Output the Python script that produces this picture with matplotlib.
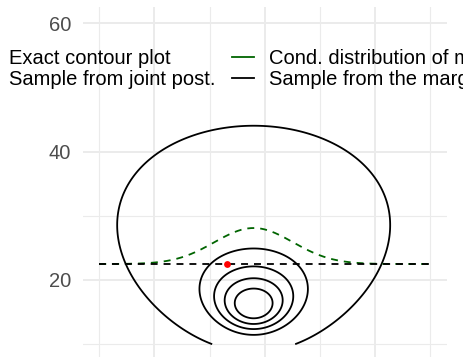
import numpy as np
import matplotlib
matplotlib.use("Agg")
import matplotlib.pyplot as plt
from matplotlib.lines import Line2D
from math import lgamma

plt.rcParams['font.family'] = ['Liberation Sans', 'DejaVu Sans']
plt.rcParams['lines.scale_dashes'] = False

# ---- data ----
y_obs = [93, 112, 122, 135, 122, 150, 118, 90, 124, 114]
mu_limits = [90, 150]
sigma_limits = [10, 60]
level_fractions = [0.0018, 0.2, 0.4, 0.6, 0.8]
sample_mu = [113.1]
sample_sigma = [22.49]
cond_scale = 100
x_major = [100, 120, 140]
x_minor = [90, 110, 130, 150]
y_major = [20, 40, 60]
y_minor = [10, 30]
y_labels = ['20', '40', '60']
legend_labels = ['Exact contour plot', 'Sample from joint post.',
                 'Cond. distribution of mu', 'Sample from the marginal of sigma']

# ---- posterior computations ----
yv = np.array(y_obs, dtype=float)
n = len(yv)
ybar = yv.mean()
s2 = yv.var(ddof=1)
nu = n - 1

mu = np.linspace(mu_limits[0], mu_limits[1], 500)
sig = np.linspace(sigma_limits[0], sigma_limits[1], 500)
MU, SIG = np.meshgrid(mu, sig)

def log_sinvchisq(x, nu, s2):
    return (nu / 2) * np.log(nu / 2) - lgamma(nu / 2) + (nu / 2) * np.log(s2) \
        - (nu / 2 + 1) * np.log(x) - nu * s2 / (2 * x)

def norm_pdf(x, m, sd):
    return np.exp(-0.5 * ((x - m) / sd) ** 2) / (sd * np.sqrt(2 * np.pi))

logz = log_sinvchisq(SIG ** 2, nu, s2) + np.log(2 * SIG) \
    + np.log(norm_pdf(MU, ybar, SIG / np.sqrt(n)))
Z = np.exp(logz)
levels = [f * Z.max() for f in level_fractions]

cond = sample_sigma[0] + cond_scale * norm_pdf(mu, ybar, sample_sigma[0] / np.sqrt(n))

# ---- figure ----
W, H = 463, 357
fig = plt.figure(figsize=(W / 100, H / 100), dpi=100)
left, right, top, bottom = 82.7, 446.7, 7.3, 360.2
ax = fig.add_axes([left / W, (H - bottom) / H, (right - left) / W, (bottom - top) / H])
ax.set_facecolor('white')
for sp in ax.spines.values():
    sp.set_visible(False)

ax.set_xlim(87, 153)
ax.set_ylim(7.5, 62.5)
ax.set_xticks(x_major)
ax.set_xticks(x_minor, minor=True)
ax.set_yticks(y_major)
ax.set_yticks(y_minor, minor=True)
ax.set_yticklabels(y_labels)
ax.set_xticklabels([])
ax.tick_params(axis='both', which='both', length=0)
ax.tick_params(axis='y', labelsize=14.5, labelcolor='#4D4D4D', pad=8.4)
ax.grid(True, which='major', color='#EBEBEB', linewidth=1.4)
ax.grid(True, which='minor', color='#EBEBEB', linewidth=0.8)
ax.set_axisbelow(True)

ax.contour(MU, SIG, Z, levels=levels, colors='black', linewidths=1.3)
ax.plot(mu, cond, color='#006400', linewidth=1.3, linestyle=(0, (5, 4.3)))
ax.plot(mu, np.full_like(mu, sample_sigma[0]), color='black', linewidth=1.3,
        linestyle=(0, (5, 4.3)))
ax.scatter(sample_mu, sample_sigma, color='red', s=24, zorder=5, linewidths=0)

handles = [Line2D([], [], color='black', lw=1.3),
           Line2D([], [], color='red', marker='o', linestyle='none', markersize=5),
           Line2D([], [], color='#006400', lw=1.3),
           Line2D([], [], color='black', lw=1.3)]
leg = ax.legend(handles, legend_labels, ncol=2, loc='upper left',
                bbox_to_anchor=(-28.7 / W, (H - 49) / H), bbox_transform=fig.transFigure,
                frameon=False, fontsize=14.5, borderpad=0, borderaxespad=0,
                handlelength=1.1, handletextpad=0.75, columnspacing=0.85,
                labelspacing=0.12)
for t in leg.get_texts():
    t.set_color('black')

fig.savefig('out.png', dpi=100)
